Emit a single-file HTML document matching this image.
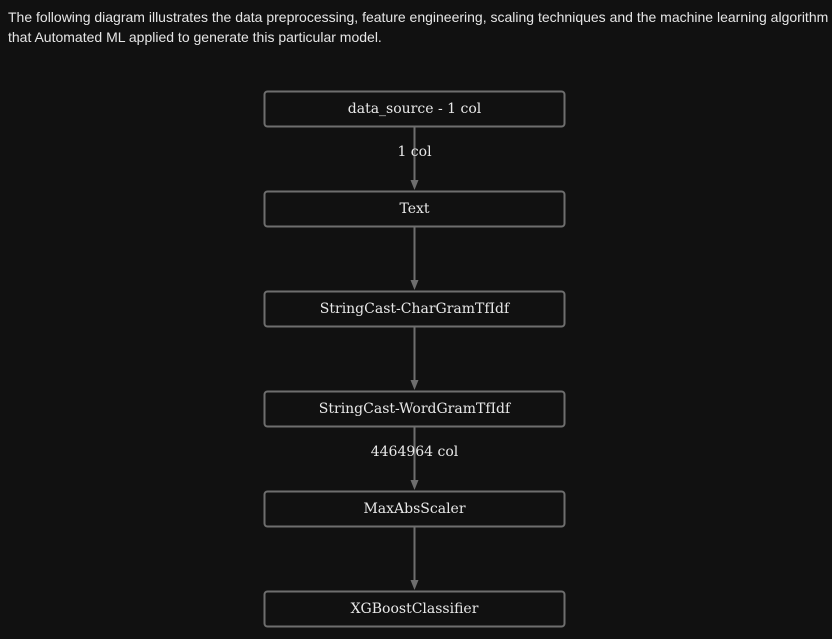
<!DOCTYPE html>
<html><head><style>
html,body{margin:0;padding:0;background:#111111;width:832px;height:639px;overflow:hidden}
p{position:absolute;left:8px;top:7px;margin:0;white-space:nowrap;font-family:"Liberation Sans",sans-serif;font-size:14px;line-height:20px;color:#e6e6e6}
svg{position:absolute;left:0;top:0}
text{font-family:"DejaVu Serif",serif;font-size:14px;fill:#e8e8e8;text-anchor:middle}
</style></head><body>
<p>The following diagram illustrates the data preprocessing, feature engineering, scaling techniques and the machine learning algorithm<br>that Automated ML applied to generate this particular model.</p>
<svg width="832" height="639">
<g stroke="#6e6e6e" stroke-width="2" fill="none">
<rect x="264.5" y="91.5" width="300" height="35" rx="3"/>
<rect x="264.5" y="191.5" width="300" height="35" rx="3"/>
<rect x="264.5" y="291.5" width="300" height="35" rx="3"/>
<rect x="264.5" y="391.5" width="300" height="35" rx="3"/>
<rect x="264.5" y="491.5" width="300" height="35" rx="3"/>
<rect x="264.5" y="591.5" width="300" height="35" rx="3"/>
<path d="M414.5 127V182M414.5 227V282M414.5 327V382M414.5 427V482M414.5 527V582"/>
</g>
<g fill="#6e6e6e">
<path d="M410.5 180h8l-4 10z"/><path d="M410.5 280h8l-4 10z"/><path d="M410.5 380h8l-4 10z"/><path d="M410.5 480h8l-4 10z"/><path d="M410.5 580h8l-4 10z"/>
</g>
<text x="414.5" y="113">data_source - 1 col</text>
<text x="414.5" y="156">1 col</text>
<text x="414.5" y="213">Text</text>
<text x="414.5" y="313">StringCast-CharGramTfIdf</text>
<text x="414.5" y="413">StringCast-WordGramTfIdf</text>
<text x="414.5" y="456">4464964 col</text>
<text x="414.5" y="513">MaxAbsScaler</text>
<text x="414.5" y="613">XGBoostClassifier</text>
</svg>
</body></html>
